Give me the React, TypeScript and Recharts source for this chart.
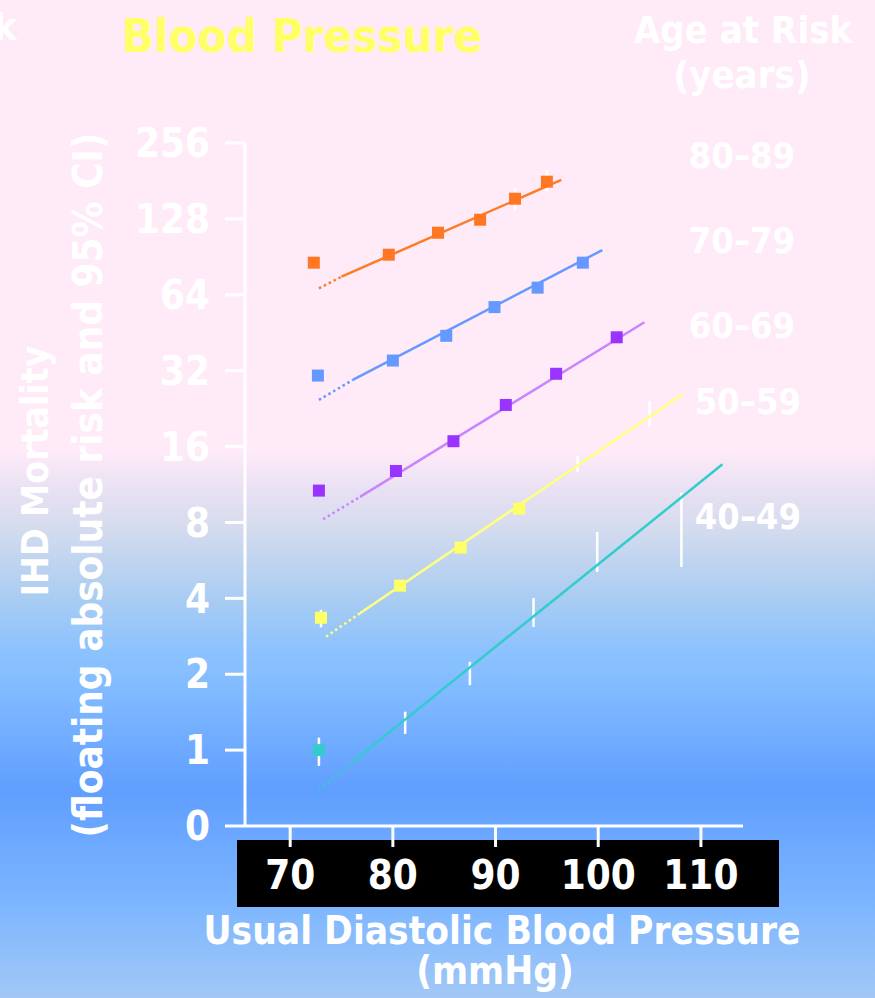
import { ScatterChart, Scatter, XAxis, YAxis, ErrorBar } from 'recharts';

const FONT = "'DejaVu Sans Condensed', 'DejaVu Sans', sans-serif";

const ageGroups = ['80–89', '70–79', '60–69', '50–59', '40–49'];
const lineColors = ['#FF7B25', '#6699FF', '#C985FF', '#FFFF80', '#33CCCC'];
const markerColors = ['#FF7722', '#6699FF', '#9933FF', '#FFFF66', '#33CCCC'];

const yTicks = [0.5, 1, 2, 4, 8, 16, 32, 64, 128, 256];
const xTicks = [70, 80, 90, 100, 110];

// squares: usual DBP (mmHg) vs floating absolute risk
const bp8089 = [72.3, 79.6, 84.4, 88.5, 91.9, 95.0];
const risk8089 = [85.8, 92.3, 112.8, 127, 153.9, 179.8];
const bp7079 = [72.7, 80.0, 85.2, 89.9, 94.1, 98.5];
const risk7079 = [30.6, 35.1, 44.0, 57.2, 68.3, 85.8];
const bp6069 = [72.8, 80.3, 85.9, 91.0, 95.9, 101.8];
const risk6069 = [10.7, 12.8, 16.8, 23.4, 31.1, 43.4];
const bp5059 = [73.0, 80.7, 86.6, 92.3];
const risk5059 = [3.35, 4.49, 6.36, 9.08];
const bp4049 = [72.8];
const risk4049 = [1.0];

// fitted lines: start of dotted part, start of solid part, end
const fitBp8089 = [72.8, 75.0, 96.4];
const fitRisk8089 = [67.9, 75.5, 182.7];
const fitBp7079 = [72.8, 76.1, 100.4];
const fitRisk7079 = [24.5, 29.4, 96.3];
const fitBp6069 = [73.2, 76.8, 104.5];
const fitRisk6069 = [8.24, 10.1, 49.8];
const fitBp5059 = [73.5, 76.8, 108.2];
const fitRisk5059 = [2.82, 3.49, 25.8];
const fitBp4049 = [72.8, 76.1, 112.1];
const fitRisk4049 = [0.695, 0.9, 13.6];

// 95% CI bars (only those that show)
const ciBp8089 = [91.9, 95.0];
const ciLo8089 = [139, 165];
const ciHi8089 = [170, 200];
const ciBp5059 = [73.0, 98.0, 105.0];
const ciLo5059 = [3.07, 12.7, 19.1];
const ciHi5059 = [3.6, 14.7, 24.3];
const ciBp4049 = [72.8, 81.2, 87.5, 93.7, 99.9, 108.1];
const ciLo4049 = [0.866, 1.16, 1.81, 3.08, 5.09, 5.33];
const ciHi4049 = [1.12, 1.42, 2.24, 4.01, 7.34, 10.5];

const pts = (xs: number[], ys: number[]) => xs.map((x, i) => ({ x, y: ys[i] }));
const cis = (xs: number[], lo: number[], hi: number[]) =>
  xs.map((x, i) => {
    const mid = Math.sqrt(lo[i] * hi[i]);
    return { x, y: mid, err: [mid - lo[i], hi[i] - mid] };
  });

const groups = [
  { squares: pts(bp8089, risk8089), fit: pts(fitBp8089, fitRisk8089), ci: cis(ciBp8089, ciLo8089, ciHi8089) },
  { squares: pts(bp7079, risk7079), fit: pts(fitBp7079, fitRisk7079), ci: [] },
  { squares: pts(bp6069, risk6069), fit: pts(fitBp6069, fitRisk6069), ci: [] },
  { squares: pts(bp5059, risk5059), fit: pts(fitBp5059, fitRisk5059), ci: cis(ciBp5059, ciLo5059, ciHi5059) },
  { squares: pts(bp4049, risk4049), fit: pts(fitBp4049, fitRisk4049), ci: cis(ciBp4049, ciLo4049, ciHi4049) },
];

const legendPos = [
  { x: 742, y: 156 },
  { x: 742, y: 241 },
  { x: 742, y: 326 },
  { x: 748, y: 402 },
  { x: 748, y: 517 },
];

const bg =
  'linear-gradient(to bottom, #FFEAF8 0px, #FFEAF8 450px, #E8E1F3 490px, #D6DCEE 525px, #A8CCF2 600px, #8CC2FE 650px, #84BDFF 680px, #609EFF 790px, #7BB5FF 900px, #A2C8F6 998px)';

function Label({ x, y, size, color = '#fff', rotate = false, children }: any) {
  return (
    <div
      style={{
        position: 'absolute',
        left: x,
        top: y,
        fontSize: size,
        lineHeight: 1,
        color,
        whiteSpace: 'nowrap',
        transform: `translate(-50%, -50%)${rotate ? ' rotate(-90deg)' : ''}`,
      }}
    >
      {children}
    </div>
  );
}

const noShape = () => <g />;

export default function App() {
  return (
    <div
      style={{
        position: 'absolute',
        left: 0,
        top: 0,
        width: 875,
        height: 998,
        overflow: 'hidden',
        background: bg,
        fontFamily: FONT,
        fontWeight: 'bold',
        fontStretch: 'condensed',
      }}
    >
      <div style={{ position: 'absolute', left: 237, top: 840, width: 542, height: 67, background: '#000' }} />

      <div style={{ position: 'absolute', left: 0, top: 0 }}>
        <ScatterChart width={875} height={998} margin={{ top: 143, right: 132, bottom: 0, left: 0 }}>
          <XAxis
            type="number"
            dataKey="x"
            domain={[65.6, 114.1]}
            ticks={xTicks}
            allowDataOverflow
            height={172}
            axisLine={{ stroke: '#fff', strokeWidth: 3 }}
            tickLine={{ stroke: '#fff', strokeWidth: 3 }}
            tickSize={21}
            tickMargin={14}
            tick={{ fill: '#fff', fontSize: 40, fontWeight: 'bold' }}
          />
          <YAxis
            type="number"
            dataKey="y"
            scale="log"
            domain={[0.5, 256]}
            ticks={yTicks}
            allowDataOverflow
            width={245}
            axisLine={{ stroke: '#fff', strokeWidth: 3 }}
            tickLine={{ stroke: '#fff', strokeWidth: 3 }}
            tickSize={20}
            tickMargin={15}
            tick={{ fill: '#fff', fontSize: 40, fontWeight: 'bold' }}
            tickFormatter={(v: number) => (v === 0.5 ? '0' : String(v))}
          />
          {groups.map((g, i) => (
            <Scatter
              key={`dot-${i}`}
              data={g.fit.slice(0, 2)}
              shape={noShape}
              line={{ stroke: lineColors[i], strokeWidth: 2.5, strokeDasharray: '2.5 3' }}
              isAnimationActive={false}
            />
          ))}
          {groups.map((g, i) => (
            <Scatter
              key={`fit-${i}`}
              data={g.fit.slice(1)}
              shape={noShape}
              line={{ stroke: lineColors[i], strokeWidth: 2.5 }}
              isAnimationActive={false}
            />
          ))}
          {groups.map((g, i) =>
            g.ci.length ? (
              <Scatter key={`ci-${i}`} data={g.ci} shape={noShape} isAnimationActive={false}>
                <ErrorBar
                  dataKey="err"
                  direction="y"
                  width={0}
                  stroke="#fff"
                  strokeWidth={2.5}
                  isAnimationActive={false}
                />
              </Scatter>
            ) : null
          )}
          {groups.map((g, i) => (
            <Scatter
              key={`sq-${i}`}
              data={g.squares}
              isAnimationActive={false}
              shape={(p: any) => (
                <rect x={p.cx - 6} y={p.cy - 6} width={12} height={12} fill={markerColors[i]} />
              )}
            />
          ))}
        </ScatterChart>
      </div>

      <Label x={302} y={35} size={47} color="#FFFF66">Blood Pressure</Label>
      <div style={{ position: 'absolute', left: -6, top: 8, fontSize: 38, lineHeight: 1, color: '#fff' }}>k</div>
      <Label x={743} y={30} size={38}>Age at Risk</Label>
      <Label x={742} y={75} size={38}>(years)</Label>

      {ageGroups.map((a, i) => (
        <Label key={a} x={legendPos[i].x} y={legendPos[i].y} size={36}>
          {a}
        </Label>
      ))}

      <Label x={35} y={471} size={37} rotate>IHD Mortality</Label>
      <Label x={88} y={485} size={40} rotate>(floating absolute risk and 95% CI)</Label>

      <Label x={502} y={931} size={38.5}>Usual Diastolic Blood Pressure</Label>
      <Label x={495} y={971} size={38.5}>(mmHg)</Label>
    </div>
  );
}
